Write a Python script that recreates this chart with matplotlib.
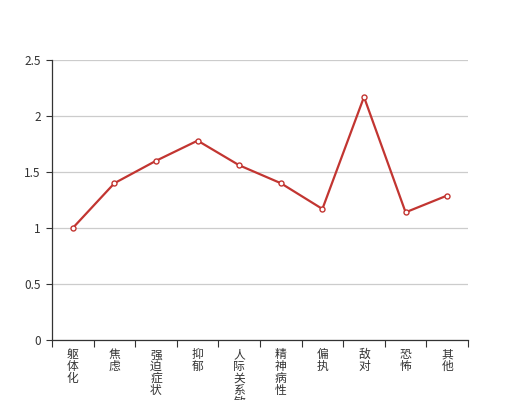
import matplotlib
matplotlib.use("Agg")
import matplotlib.pyplot as plt
import numpy as np

plt.rcParams['font.family'] = ['Noto Sans CJK SC', 'DejaVu Sans']

categories = ["躯体化", "焦虑", "强迫症状", "抑郁", "人际关系敏感", "精神病性", "偏执", "敌对", "恐怖", "其他"]
values = [1.0, 1.40, 1.60, 1.78, 1.56, 1.40, 1.17, 2.17, 1.14, 1.29]
yticks = [0, 0.5, 1, 1.5, 2, 2.5]
ytick_labels = ["0", "0.5", "1", "1.5", "2", "2.5"]

fig = plt.figure(figsize=(5.2, 4.0), dpi=100)
ax = fig.add_axes([0.1, 0.15, 0.8, 0.70])

x = np.arange(len(categories))
ax.plot(x, values, color="#c23531", linewidth=1.6, marker="o", markersize=3.6,
        markerfacecolor="white", markeredgecolor="#c23531", markeredgewidth=1.0, zorder=3)

ax.set_xlim(-0.5, len(categories) - 0.5)
ax.set_ylim(0, 2.5)
ax.set_yticks(yticks)
ax.set_yticklabels(ytick_labels)
ax.yaxis.grid(True, color="#cccccc", linewidth=0.9)
ax.set_axisbelow(True)

ax.set_xticks(x)
ax.set_xticklabels(["\n".join(c) for c in categories], linespacing=0.88, va="top")
ax.set_xticks(np.arange(len(categories) + 1) - 0.5, minor=True)
ax.tick_params(axis="x", which="major", length=0, pad=6, labelsize=8.5, colors="#333333")
ax.tick_params(axis="x", which="minor", length=5, width=0.8, color="#333333", direction="out")
ax.tick_params(axis="y", length=4, width=0.8, color="#333333", labelsize=8.5, labelcolor="#333333", pad=4)

for s in ["top", "right"]:
    ax.spines[s].set_visible(False)
for s in ["left", "bottom"]:
    ax.spines[s].set_color("#333333")
    ax.spines[s].set_linewidth(0.9)

fig.savefig("out.png", dpi=100)
